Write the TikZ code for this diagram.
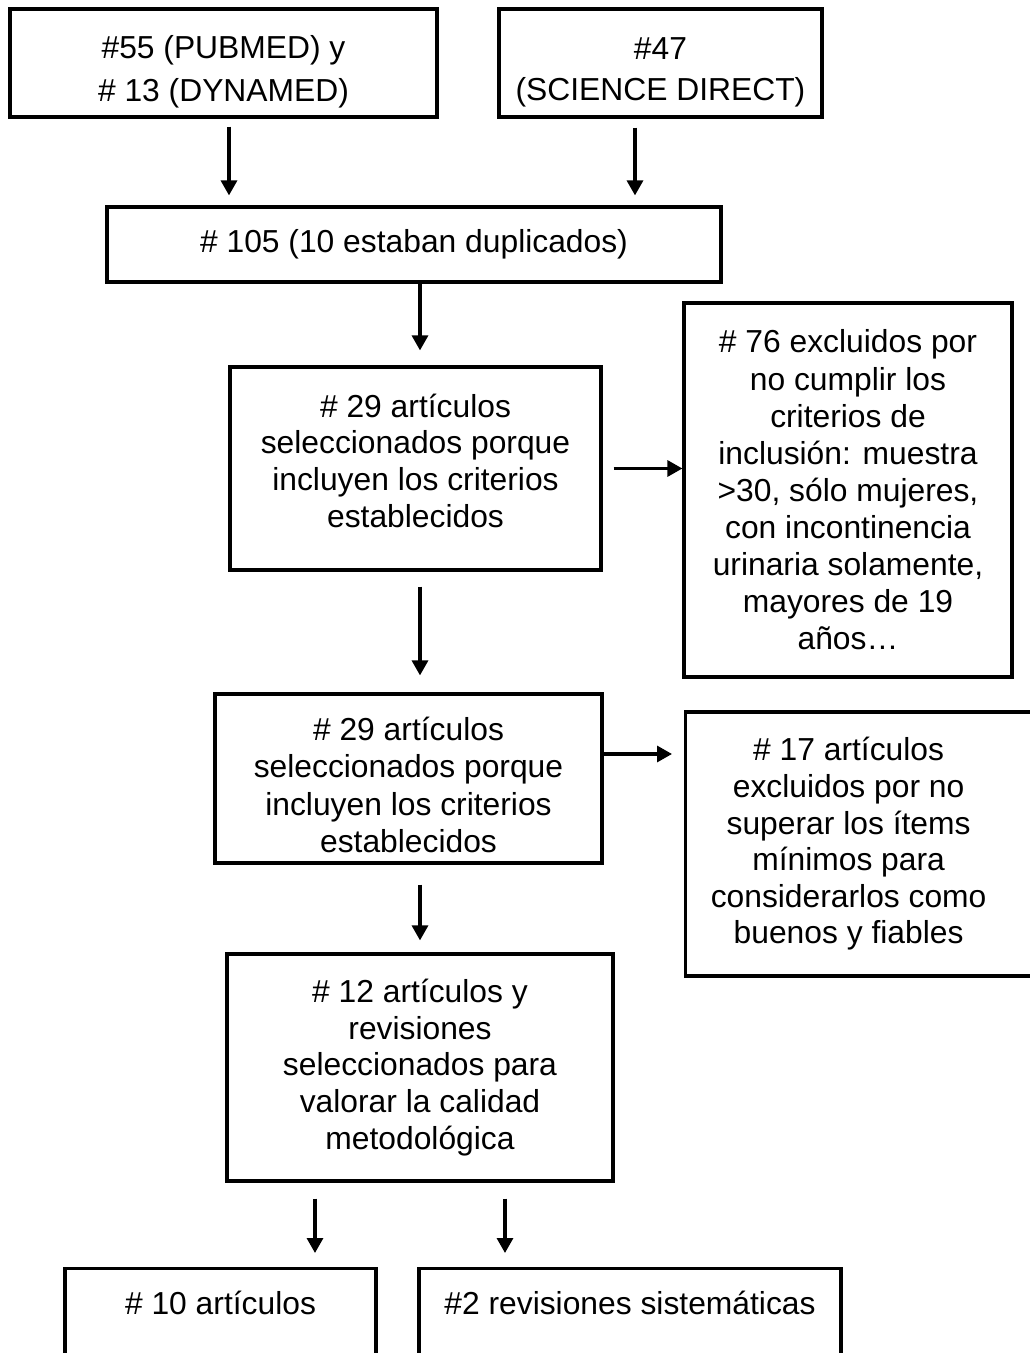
\documentclass[tikz,border=0pt]{standalone}
\usepackage{fontspec}
\setmainfont{Liberation Sans}
\usetikzlibrary{arrows.meta}
\begin{document}
\begin{tikzpicture}[x=0.5pt, y=-0.5pt,
    box/.style={draw, rectangle, line width=1.6pt, align=center, inner sep=0pt,
        font=\fontsize{15.9}{18.3}\selectfont},
    arrow/.style={line width=1.6pt, -{Triangle[length=7.5pt,width=8pt]}}]
    \useasboundingbox (0,0) rectangle (1029,1353);

    \node[box, minimum width=213.5pt, minimum height=54pt, font=\fontsize{15.9}{21.5}\selectfont] (pubmed) at (223.5,63) {\rule{0pt}{20pt}\#55 (PUBMED) y\\\# 13 (DYNAMED)};
    \node[box, minimum width=161.5pt, minimum height=54pt, font=\fontsize{15.9}{20.5}\selectfont] (scidirect) at (660.5,63) {\rule{0pt}{20pt}\#47\\(SCIENCE DIRECT)};
    \node[box, minimum width=307pt, minimum height=37.5pt] (dup) at (414,244.5) {\# 105 (10 estaban duplicados)};
    \node[box, minimum width=185.5pt, minimum height=101.5pt] (sel1) at (415.5,468.5) {\# 29 artículos\\seleccionados porque\\incluyen los criterios\\establecidos\rule[-8pt]{0pt}{8pt}};
    \node[box, minimum width=164pt, minimum height=187pt, font=\fontsize{15.9}{18.55}\selectfont] (excl1) at (848,490) {\# 76 excluidos por\\no cumplir los\\criterios de\\inclusión: muestra\\>30, sólo mujeres,\\con incontinencia\\urinaria solamente,\\mayores de 19\\años…};
    \node[box, minimum width=193.5pt, minimum height=84.5pt, font=\fontsize{15.9}{18.65}\selectfont] (sel2) at (408.5,778.5) {\rule{0pt}{18pt}\# 29 artículos\\seleccionados porque\\incluyen los criterios\\establecidos};
    \node[box, align=left, minimum height=132pt, anchor=west] (excl2) at (684,844) {\parbox{163pt}{\centering \# 17 artículos\\excluidos por no\\superar los ítems\\mínimos para\\considerarlos como\\buenos y fiables}\hspace{24pt}};
    \node[box, minimum width=193pt, minimum height=113.5pt] (calidad) at (420,1067.5) {\# 12 artículos y\\revisiones\\seleccionados para\\valorar la calidad\\metodológica};
    \node[box, minimum width=155.5pt, anchor=north, inner ysep=9pt, text height=14pt, text depth=50pt] (art) at (220.5,1267) {\# 10 artículos};
    \node[box, minimum width=211pt, anchor=north, inner ysep=9pt, text height=14pt, text depth=50pt] (rev) at (630,1267) {\#2 revisiones sistemáticas};

    \draw[arrow, shorten <=4pt, shorten >=5pt] ([xshift=2.75pt]pubmed.south) -- ([xshift=2.75pt]pubmed.south |- dup.north);
    \draw[arrow, shorten <=4.5pt, shorten >=5pt] ([xshift=-12.75pt]scidirect.south) -- ([xshift=-12.75pt]scidirect.south |- dup.north);
    \draw[arrow, shorten >=7.5pt] ([xshift=3pt]dup.south) -- ([xshift=3pt]dup.south |- sel1.north);
    \draw[arrow, shorten <=5.5pt] (sel1.east) -- (sel1.east -| excl1.west);
    \draw[arrow, shorten <=7.5pt, shorten >=8.5pt] ([xshift=2.25pt]sel1.south) -- ([xshift=2.25pt]sel1.south |- sel2.north);
    \draw[arrow, shorten >=6pt] ([yshift=12.25pt]sel2.east) -- ([yshift=12.25pt]sel2.east -| excl2.west);
    \draw[arrow, shorten <=10pt, shorten >=6pt] ([xshift=5.75pt]sel2.south) -- ([xshift=5.75pt]sel2.south |- calidad.north);
    \draw[arrow, shorten <=8pt, shorten >=7pt] ([xshift=-52.5pt]calidad.south) -- ([xshift=-52.5pt]calidad.south |- art.north);
    \draw[arrow, shorten <=8pt, shorten >=7pt] ([xshift=42.5pt]calidad.south) -- ([xshift=42.5pt]calidad.south |- rev.north);
\end{tikzpicture}
\end{document}
